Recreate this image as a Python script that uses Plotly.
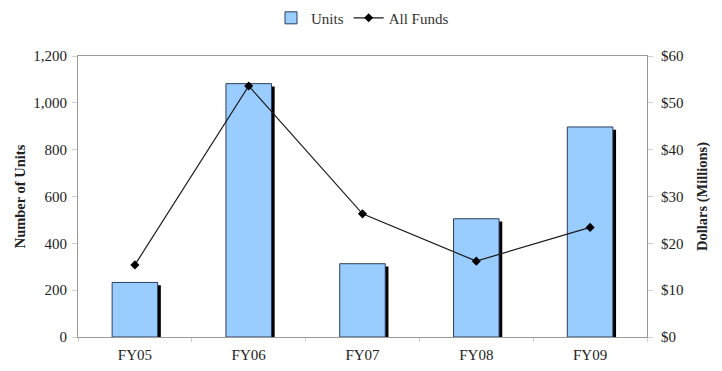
import plotly.graph_objects as go

# Fiscal years and the two series
years = ["FY05", "FY06", "FY07", "FY08", "FY09"]
units = [233, 1082, 313, 505, 897]
all_funds = [15.4, 53.6, 26.3, 16.2, 23.4]

# styling constants
BAR_WIDTH = 0.40
SHADOW_SHIFT = 0.028      # category units to the right
SHADOW_DROP = 12          # unit-axis units below each bar top
FONT = "Liberation Serif"
AXIS_GREY = "#9a9a9a"
TICK_FONT = dict(family=FONT, size=15, color="#222")
TITLE_FONT = dict(family=FONT, size=14.5, color="#222")

fig = go.Figure()

# drop shadow behind each bar
fig.add_trace(go.Bar(
    x=years,
    y=[u - SHADOW_DROP for u in units],
    width=BAR_WIDTH,
    offset=-BAR_WIDTH / 2 + SHADOW_SHIFT,
    marker=dict(color="black", line=dict(width=0)),
    showlegend=False,
    hoverinfo="skip",
))

fig.add_trace(go.Bar(
    x=years,
    y=units,
    name="Units",
    width=BAR_WIDTH,
    offset=-BAR_WIDTH / 2,
    marker=dict(color="#99CCFF", line=dict(color="#2b3f5c", width=1)),
))

fig.add_trace(go.Scatter(
    x=years,
    y=all_funds,
    name="All Funds",
    yaxis="y2",
    mode="lines+markers",
    line=dict(color="#1a1a1a", width=1.2),
    marker=dict(symbol="diamond", size=7, color="black"),
))

fig.update_layout(
    width=722,
    height=371,
    margin=dict(l=78, r=75, t=56, b=34, autoexpand=False),
    paper_bgcolor="white",
    plot_bgcolor="white",
    barmode="overlay",
    font=dict(family=FONT, size=14, color="#222"),
    showlegend=True,
    legend=dict(
        orientation="h",
        x=0.5, xanchor="center",
        y=1.135, yanchor="middle",
        font=dict(family=FONT, size=15, color="#333"),
        itemwidth=30,
        tracegroupgap=0,
    ),
    xaxis=dict(
        type="category",
        range=[-0.5, 4.5],
        showline=True, linecolor=AXIS_GREY, linewidth=1, mirror=True,
        ticks="outside", tickson="boundaries", ticklen=4, tickcolor="#d0d0d0",
        ticklabelstandoff=4,
        showgrid=False,
        tickfont=TICK_FONT,
    ),
    yaxis=dict(
        range=[0, 1200],
        dtick=200,
        tickformat=",",
        showline=True, linecolor=AXIS_GREY, linewidth=1,
        ticks="outside", ticklen=5, tickcolor="#d0d0d0",
        ticklabelstandoff=2,
        showgrid=False, zeroline=False,
        title=dict(text="<b>Number of Units</b>", standoff=4, font=TITLE_FONT),
        tickfont=TICK_FONT,
    ),
    yaxis2=dict(
        overlaying="y",
        side="right",
        range=[0, 60],
        dtick=10,
        tickprefix="$",
        showline=True, linecolor=AXIS_GREY, linewidth=1,
        ticks="outside", ticklen=5, tickcolor="#d0d0d0",
        ticklabelstandoff=5,
        showgrid=False, zeroline=False,
        title=dict(text="<b>Dollars (Millions)</b>", standoff=14, font=TITLE_FONT),
        tickfont=TICK_FONT,
    ),
)

fig.write_html("out.html")
